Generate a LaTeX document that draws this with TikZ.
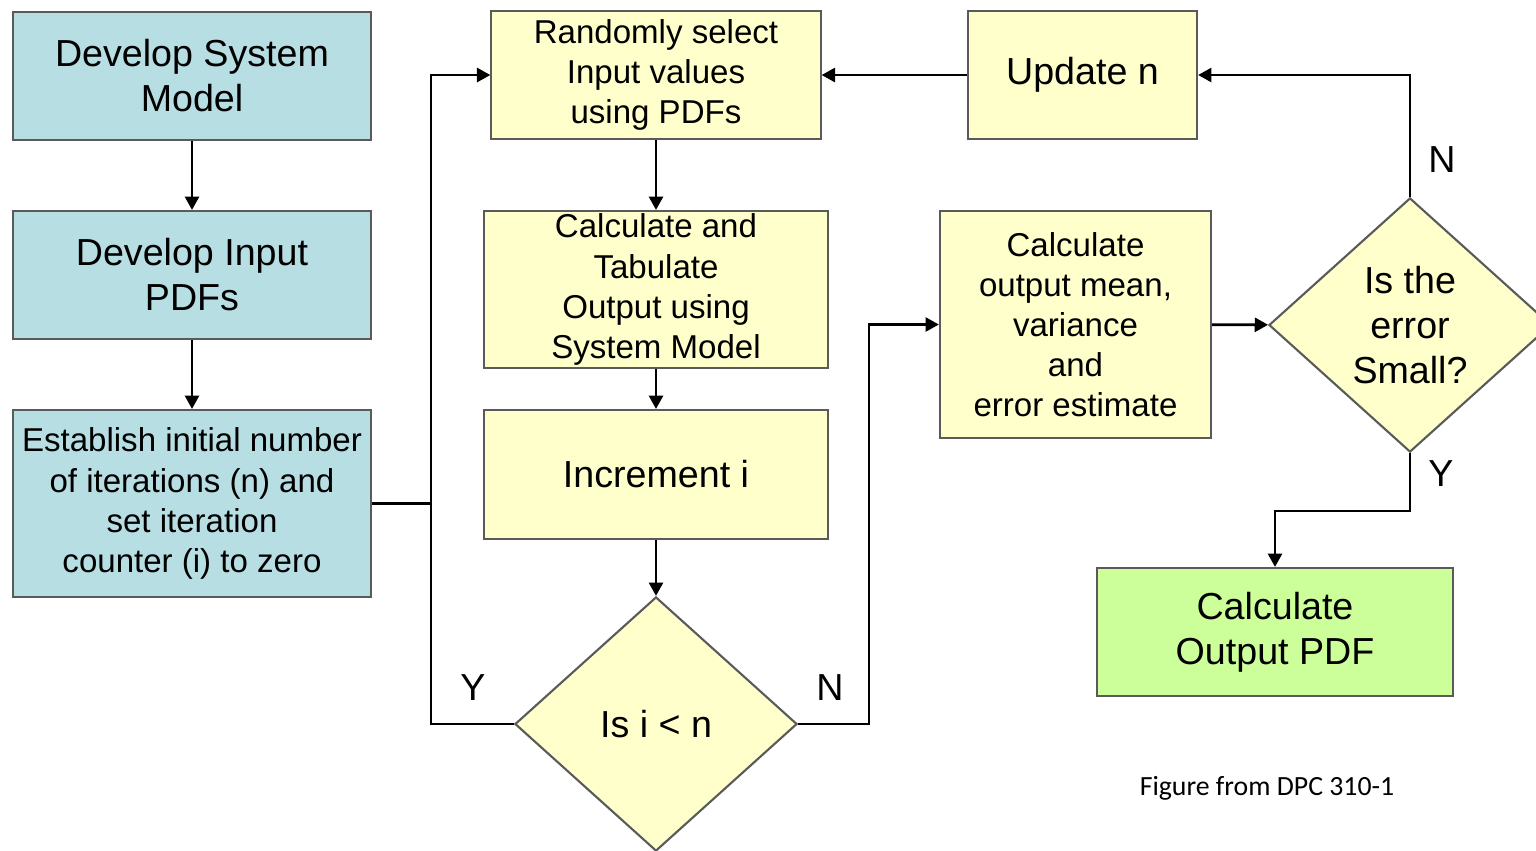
\documentclass[tikz,border=0pt]{standalone}
\usepackage{fontspec}
\setmainfont{Liberation Sans}
\newfontfamily\capfont{Carlito}
\usetikzlibrary{shapes.geometric,arrows.meta}
\definecolor{boxblue}{HTML}{B7DEE3}
\definecolor{boxyellow}{HTML}{FFFFCC}
\definecolor{boxgreen}{HTML}{CCFF99}
\definecolor{boxline}{HTML}{5A5A5A}
\begin{document}
\begin{tikzpicture}[x=0.01cm,y=-0.01cm,
    box/.style={draw=boxline,line width=0.6pt,inner sep=0pt,align=center},
    big/.style={font=\fontsize{10.7}{12.8}\selectfont},
    small/.style={font=\fontsize{9.4}{11.4}\selectfont},
    decision/.style={diamond,draw=boxline,line width=0.6pt,fill=boxyellow,
      inner sep=0pt,minimum width=2.82cm,minimum height=2.54cm,align=center},
    flow/.style={line width=0.75pt,-{Triangle[length=3.8pt,width=4pt]}},
    link/.style={line width=0.75pt},
    yn/.style={font=\fontsize{10.7}{12.8}\selectfont}]
  \useasboundingbox (0,0) rectangle (1536,850);

  % left column
  \node[box,big,fill=boxblue,minimum width=3.58cm,minimum height=1.28cm] (model) at (192,76) {Develop System\\Model};
  \node[box,big,fill=boxblue,minimum width=3.58cm,minimum height=1.28cm] (pdfs) at (192,275) {Develop Input\\PDFs};
  \node[box,small,fill=boxblue,minimum width=3.58cm,minimum height=1.87cm] (init) at (192,503.5) {Establish initial number\\of iterations (n) and\\set iteration\\counter (i) to zero};

  % middle column
  \node[box,small,fill=boxyellow,minimum width=3.29cm,minimum height=1.28cm] (select) at (656,75) {Randomly select\\Input values\\using PDFs};
  \node[box,small,fill=boxyellow,minimum width=3.43cm,minimum height=1.57cm] (table) at (656,289.5) {Calculate and\\Tabulate\\Output using\\System Model};
  \node[box,big,fill=boxyellow,minimum width=3.43cm,minimum height=1.29cm] (incr) at (656,474.5) {Increment i};
  \node[decision,big] (test) at (656,724) {Is i {\textless} n};

  % right part
  \node[box,big,fill=boxyellow,minimum width=2.29cm,minimum height=1.28cm] (update) at (1082.5,75) {Update n};
  \node[box,small,fill=boxyellow,minimum width=2.71cm,minimum height=2.27cm] (stats) at (1075.5,324.5) {Calculate\\output mean,\\variance\\and\\error estimate};
  \node[decision,big] (check) at (1410,325) {Is the\\error\\Small?};
  \node[box,big,fill=boxgreen,minimum width=3.56cm,minimum height=1.28cm] (pdf) at (1275,632) {Calculate\\Output PDF};

  \node[font=\capfont\fontsize{7.9}{9.5}\selectfont] (source) at (1267,788) {Figure from DPC 310-1};

  % connectors
  \coordinate (loopx) at (431,503.5);
  \coordinate (nx) at (869,500);
  \coordinate (ybend) at (1340,511);

  \draw[flow] (model) -- (pdfs);
  \draw[flow] (pdfs) -- (init);
  \draw[link] (init) -- (loopx);
  \draw[flow] (test.west) -| (loopx) |- (select.west);
  \draw[flow] (select) -- (table);
  \draw[flow] (table) -- (incr);
  \draw[flow] (incr) -- (test);
  \draw[flow] (test.east) -| (nx) |- (stats.west);
  \draw[flow] (stats) -- (check);
  \draw[flow] (check.north) |- (update.east);
  \draw[flow] (update) -- (select);
  \draw[flow] (check.south) |- (ybend) -| (pdf.north);

  \node[yn] (ytest) at (473,688) {Y};
  \node[yn] (ntest) at (830,688) {N};
  \node[yn] (ncheck) at (1442,160) {N};
  \node[yn] (ycheck) at (1441,474) {Y};
\end{tikzpicture}
\end{document}
